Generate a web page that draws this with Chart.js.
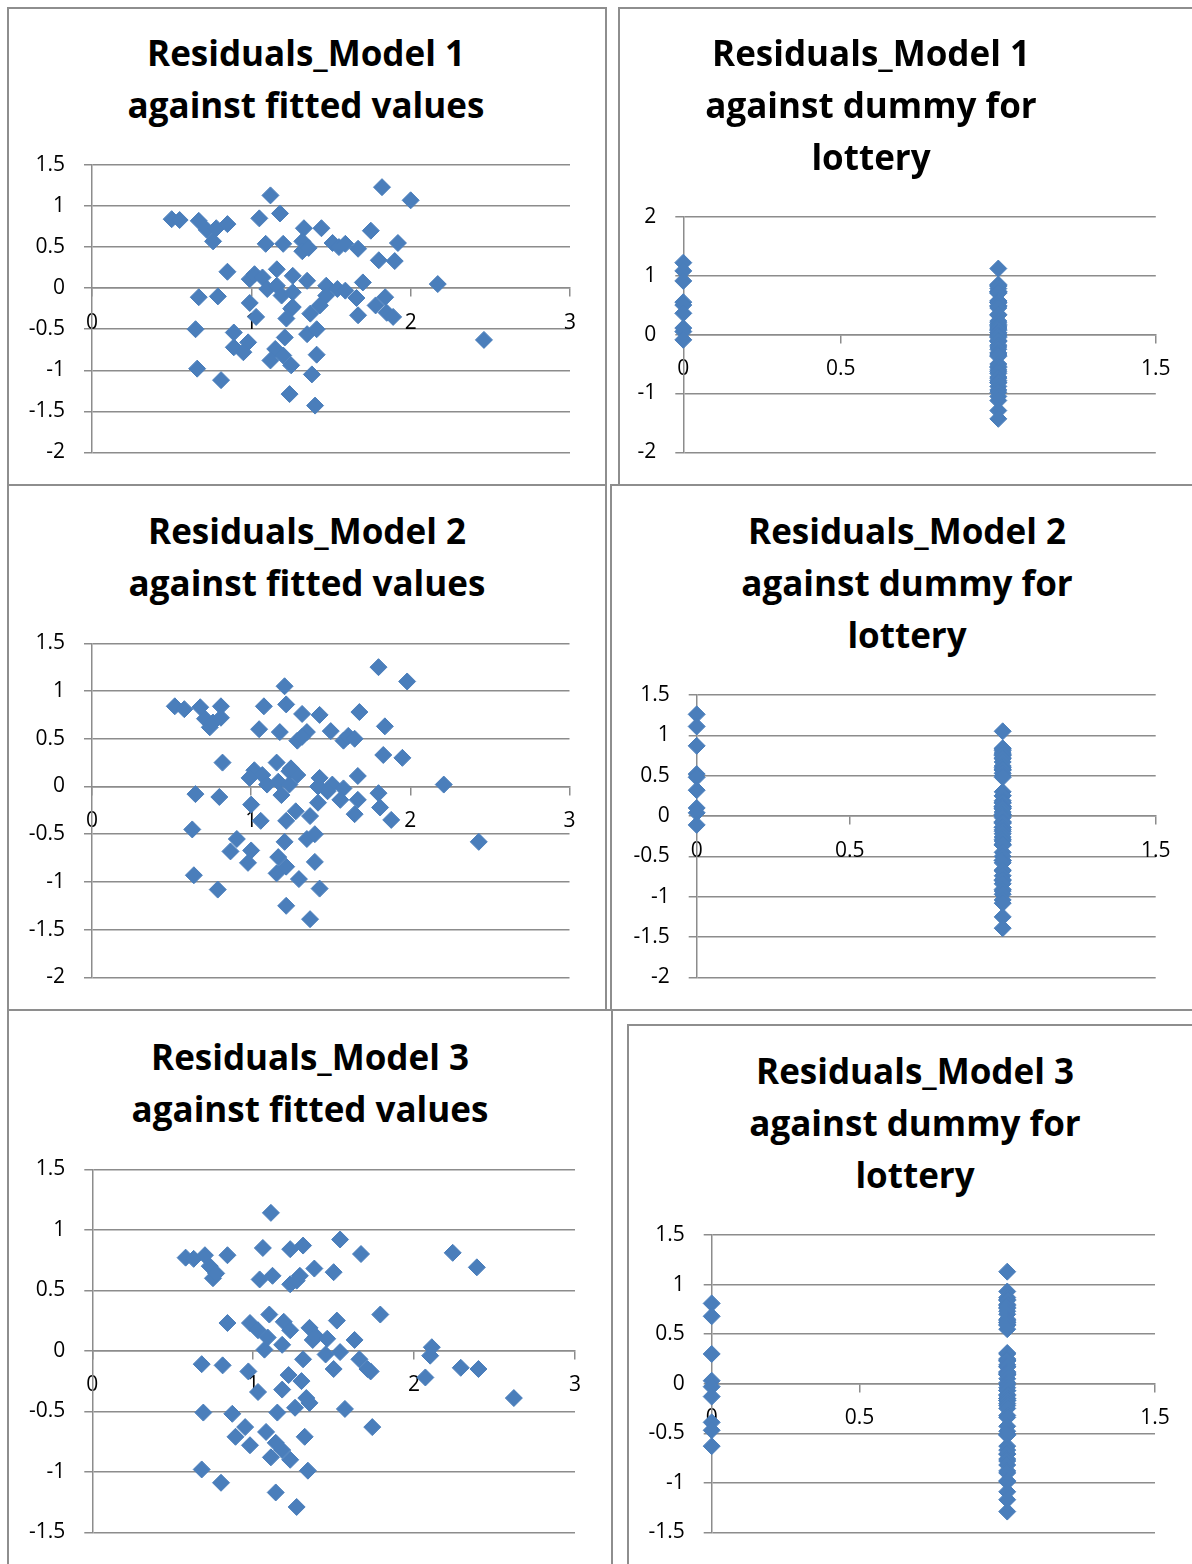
<!DOCTYPE html>
<html>
<head>
<meta charset="utf-8">
<script src="https://cdn.jsdelivr.net/npm/chart.js@4.4.1/dist/chart.umd.min.js"></script>
<style>
  html, body { margin: 0; padding: 0; background: #fff; }
  #page { position: relative; width: 1192px; height: 1564px; overflow: hidden; background: #fff; }
  .panel { position: absolute; border: 2px solid #8e8e8e; box-sizing: border-box; }
  .title { position: absolute; width: 600px; text-align: center; color: #000;
           font-family: 'Open Sans', sans-serif; font-weight: 700; font-size: 35px; line-height: 52px; white-space: nowrap; }
  canvas { position: absolute; }
</style>
</head>
<body>
<div id="page"></div>
<script>
// residuals vs fitted values, model 1
const m1Fitted = [0.50,0.55,0.67,0.72,0.76,0.78,0.85,1.12,1.05,1.18,1.09,1.20,1.33,1.44,1.32,1.32,1.36,0.85,0.99,1.02,1.07,1.16,1.10,1.16,1.19,1.26,1.35,1.26,1.47,0.67,0.79,0.99,1.03,1.25,1.22,1.37,1.43,0.65,0.89,0.89,0.98,0.95,1.21,1.35,1.41,1.15,1.12,1.20,1.25,1.41,0.66,0.81,1.38,1.24,1.40,1.82,2.00,1.75,1.51,1.55,1.59,1.67,1.92,1.80,1.90,1.54,1.59,1.70,2.17,1.66,1.78,1.84,1.67,1.85,1.89,1.47,2.46,1.26];
const m1Resid  = [0.84,0.83,0.82,0.71,0.57,0.73,0.78,1.13,0.85,0.91,0.54,0.54,0.73,0.73,0.57,0.45,0.49,0.20,0.11,0.17,0.13,0.23,-0.01,0.03,-0.09,0.15,0.09,-0.05,0.03,-0.11,-0.10,-0.18,-0.35,-0.25,-0.37,-0.31,-0.21,-0.50,-0.54,-0.72,-0.66,-0.78,-0.60,-0.56,-0.50,-0.74,-0.88,-0.82,-0.94,-0.81,-0.98,-1.12,-1.05,-1.29,-1.43,1.23,1.07,0.70,0.55,0.50,0.54,0.48,0.55,0.34,0.33,-0.01,-0.03,0.07,0.05,-0.12,-0.21,-0.11,-0.33,-0.30,-0.35,-0.09,-0.63,-0.23];

// model 2
const m2Fitted = [0.52,0.58,0.68,0.71,0.74,0.76,0.81,0.81,1.08,1.21,1.22,1.32,1.43,1.05,1.18,1.29,1.35,1.32,0.82,1.02,1.07,0.99,1.16,1.10,1.17,1.19,1.24,1.29,1.24,1.43,1.42,0.65,0.80,1.00,1.06,1.22,1.28,1.37,1.42,0.63,0.91,0.87,1.00,0.98,1.21,1.35,1.40,1.17,1.16,1.22,1.30,1.40,0.64,0.79,1.43,1.22,1.37,1.80,1.98,1.68,1.84,1.50,1.58,1.61,1.65,1.83,1.95,1.25,1.51,1.58,1.67,2.21,1.56,1.67,1.80,1.65,1.81,1.88,2.43,1.48];
const m2Resid  = [0.84,0.81,0.83,0.71,0.62,0.67,0.84,0.72,0.84,1.05,0.86,0.76,0.75,0.60,0.57,0.48,0.57,0.52,0.25,0.17,0.12,0.09,0.25,0.02,0.05,-0.09,0.16,0.12,0.02,0.09,0.00,-0.08,-0.11,-0.19,-0.36,-0.36,-0.26,-0.31,-0.17,-0.45,-0.55,-0.68,-0.67,-0.80,-0.58,-0.55,-0.50,-0.74,-0.91,-0.84,-0.97,-0.79,-0.93,-1.08,-1.07,-1.25,-1.39,1.25,1.10,0.78,0.63,0.58,0.48,0.53,0.50,0.33,0.30,0.19,0.02,-0.02,0.11,0.02,-0.14,-0.14,-0.07,-0.29,-0.22,-0.35,-0.58,-0.05];

// model 3
const m3Fitted = [1.11,0.58,0.63,0.70,0.73,0.75,0.77,0.84,1.06,1.23,1.31,1.38,1.04,1.12,1.23,1.29,1.27,0.84,0.98,1.03,1.10,1.19,1.23,1.07,1.09,1.18,1.35,1.37,1.31,0.68,0.81,0.97,1.03,1.18,1.22,1.30,1.33,1.26,0.69,0.87,0.95,0.89,0.98,1.15,1.08,1.14,1.11,1.18,1.23,1.32,1.34,0.68,0.80,1.14,1.27,1.54,1.67,2.24,2.39,1.50,1.79,1.52,1.39,1.46,1.63,1.54,2.11,2.10,1.45,1.66,1.71,1.73,1.50,2.29,2.40,2.07,2.62,1.57,1.74,1.35];
const m3Resid  = [1.14,0.77,0.76,0.79,0.70,0.60,0.64,0.79,0.85,0.84,0.87,0.68,0.59,0.62,0.55,0.62,0.58,0.23,0.23,0.17,0.30,0.24,0.17,0.01,0.11,0.05,0.19,0.09,-0.07,-0.11,-0.12,-0.17,-0.34,-0.32,-0.20,-0.25,-0.39,-0.47,-0.51,-0.52,-0.63,-0.71,-0.78,-0.51,-0.67,-0.76,-0.88,-0.82,-0.90,-0.71,-0.99,-0.98,-1.09,-1.17,-1.29,0.92,0.80,0.81,0.69,0.65,0.30,0.25,0.12,0.10,0.09,-0.01,0.03,-0.04,-0.03,-0.07,-0.15,-0.17,-0.15,-0.14,-0.15,-0.22,-0.39,-0.48,-0.63,-0.43];

// residuals split by the lottery dummy (0 / 1)
const m1Lot0 = [1.22,1.08,0.91,0.55,0.50,0.36,0.11,0.05,-0.09];
const m1Lot1 = [1.12,0.85,0.83,0.82,0.78,0.73,0.73,0.71,0.70,0.57,0.57,0.54,0.54,0.49,0.48,0.45,0.34,0.33,0.23,0.20,0.17,0.15,0.13,0.11,0.09,0.07,0.03,0.03,-0.01,-0.03,-0.05,-0.10,-0.11,-0.12,-0.18,-0.21,-0.25,-0.31,-0.33,-0.35,-0.37,-0.50,-0.54,-0.56,-0.60,-0.63,-0.66,-0.72,-0.74,-0.78,-0.81,-0.82,-0.88,-0.94,-0.98,-1.05,-1.12,-1.29,-1.43];
const m2Lot0 = [1.26,1.11,0.87,0.52,0.48,0.32,0.10,0.04,-0.11];
const m2Lot1 = [1.05,0.84,0.83,0.81,0.78,0.76,0.75,0.72,0.71,0.67,0.62,0.60,0.58,0.57,0.57,0.53,0.50,0.48,0.30,0.25,0.25,0.19,0.17,0.16,0.12,0.12,0.11,0.09,0.09,0.05,0.02,0.02,0.00,-0.02,-0.07,-0.08,-0.09,-0.14,-0.14,-0.17,-0.19,-0.22,-0.26,-0.29,-0.31,-0.35,-0.36,-0.36,-0.45,-0.50,-0.55,-0.55,-0.58,-0.67,-0.68,-0.74,-0.79,-0.80,-0.84,-0.91,-0.93,-0.97,-1.04,-1.08,-1.25,-1.39];
const m3Lot0 = [0.81,0.68,0.30,0.03,-0.03,-0.13,-0.39,-0.47,-0.63];
const m3Lot1 = [1.13,0.93,0.87,0.85,0.84,0.80,0.79,0.77,0.76,0.73,0.70,0.65,0.64,0.62,0.62,0.60,0.59,0.55,0.31,0.30,0.25,0.24,0.23,0.23,0.19,0.17,0.17,0.12,0.11,0.10,0.09,0.09,0.05,0.01,-0.01,-0.04,-0.07,-0.07,-0.11,-0.12,-0.15,-0.15,-0.17,-0.17,-0.20,-0.22,-0.25,-0.32,-0.34,-0.43,-0.48,-0.51,-0.51,-0.52,-0.63,-0.67,-0.71,-0.71,-0.76,-0.78,-0.82,-0.88,-0.90,-0.98,-0.99,-1.09,-1.17,-1.29];

const titleFitted = n => ['Residuals_Model ' + n, 'against fitted values'];
const titleDummy = n => ['Residuals_Model ' + n, 'against dummy for', 'lottery'];

const GRID = '#8c8c8c';
const MARK = '#4a7ebb';
const page = document.getElementById('page');

// chart frames
[[7, 7, 600, 479], [618, 7, 600, 479], [7, 484, 600, 527], [610, 484, 600, 527], [7, 1009, 606, 600], [627, 1024, 600, 600]]
  .forEach(([l, t, w, h]) => {
    const d = document.createElement('div');
    d.className = 'panel';
    Object.assign(d.style, { left: l + 'px', top: t + 'px', width: w + 'px', height: h + 'px' });
    page.appendChild(d);
  });

function pairs(xs, ys) { return xs.map((x, i) => ({ x: x, y: ys[i] })); }
function dummyPoints(lot0, lot1) {
  return lot0.map(v => ({ x: 0, y: v })).concat(lot1.map(v => ({ x: 1, y: v })));
}

// g: canvas box, title centre and plot-area edges in page pixels
function makeChart(g, title, points, yMin, yMax, yStep, xMax, xStep) {
  const t = document.createElement('div');
  t.className = 'title';
  t.style.left = (g.tc - 300) + 'px';
  t.style.top = (g.ty - 28) + 'px';
  t.innerHTML = title.join('<br>');
  page.appendChild(t);

  const cv = document.createElement('canvas');
  cv.width = g.cw; cv.height = g.ch;
  Object.assign(cv.style, { left: g.cl + 'px', top: g.ct + 'px', width: g.cw + 'px', height: g.ch + 'px' });
  page.appendChild(cv);

  const yW = g.l - g.cl;
  const tickFont = { family: 'Open Sans', size: 21 };

  new Chart(cv, {
    type: 'scatter',
    data: {
      datasets: [{
        data: points,
        clip: false,
        pointStyle: 'rectRot',
        pointRadius: 8.5,
        backgroundColor: MARK,
        borderColor: MARK,
        borderWidth: 1
      }]
    },
    options: {
      responsive: false,
      animation: false,
      events: [],
      layout: { padding: { left: 0, right: g.cw - (g.r - g.cl), top: g.t - g.ct, bottom: g.ct + g.ch - g.b } },
      plugins: { legend: { display: false }, tooltip: { enabled: false }, title: { display: false } },
      scales: {
        x: {
          type: 'linear',
          position: { y: 0 },
          min: 0, max: xMax,
          ticks: { stepSize: xStep, color: '#000', font: tickFont, padding: 14, maxRotation: 0, callback: v => String(v) },
          grid: { drawOnChartArea: false, drawTicks: true, tickLength: 8, color: GRID, lineWidth: 1.5 },
          border: { display: true, color: GRID, width: 1.5 },
          afterFit: s => { s.height = 0; }
        },
        y: {
          type: 'linear',
          min: yMin, max: yMax,
          ticks: { stepSize: yStep, color: '#000', font: tickFont, padding: 19, callback: v => String(v) },
          grid: { color: GRID, lineWidth: 1.5, tickLength: 8 },
          border: { display: true, color: GRID, width: 1.5 },
          afterFit: s => { s.width = yW; }
        }
      }
    }
  });
}

makeChart({ cl: 9, ct: 9, cw: 596, ch: 475, tc: 306, ty: 55, l: 92, r: 570, t: 165, b: 455 },
  titleFitted(1), pairs(m1Fitted, m1Resid), -2, 1.5, 0.5, 3, 1);
makeChart({ cl: 620, ct: 9, cw: 572, ch: 475, tc: 871, ty: 55, l: 683.3, r: 1155.8, t: 216.7, b: 456 },
  titleDummy(1), dummyPoints(m1Lot0, m1Lot1), -2, 2, 1, 1.5, 0.5);
makeChart({ cl: 9, ct: 486, cw: 596, ch: 523, tc: 307, ty: 533, l: 92, r: 569.5, t: 643.3, b: 981.7 },
  titleFitted(2), pairs(m2Fitted, m2Resid), -2, 1.5, 0.5, 3, 1);
makeChart({ cl: 612, ct: 486, cw: 580, ch: 523, tc: 907, ty: 533, l: 696.7, r: 1155.7, t: 695, b: 981.7 },
  titleDummy(2), dummyPoints(m2Lot0, m2Lot1), -2, 1.5, 0.5, 1.5, 0.5);
makeChart({ cl: 9, ct: 1011, cw: 602, ch: 553, tc: 310, ty: 1059, l: 92.3, r: 575, t: 1169.3, b: 1541.7 },
  titleFitted(3), pairs(m3Fitted, m3Resid), -1.5, 1.5, 0.5, 3, 1);
makeChart({ cl: 629, ct: 1026, cw: 563, ch: 538, tc: 915, ty: 1073, l: 711.7, r: 1155, t: 1235, b: 1541.7 },
  titleDummy(3), dummyPoints(m3Lot0, m3Lot1), -1.5, 1.5, 0.5, 1.5, 0.5);
</script>
</body>
</html>
